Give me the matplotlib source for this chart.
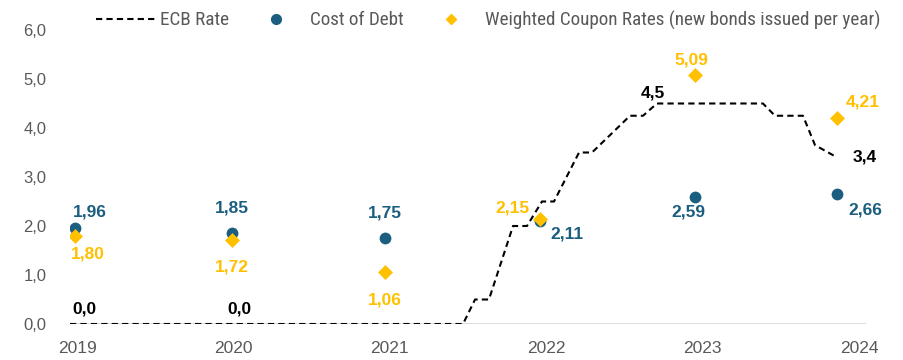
import numpy as np
import matplotlib
matplotlib.use("Agg")
import matplotlib.pyplot as plt
from matplotlib import font_manager
from matplotlib.lines import Line2D

# ---------------- data ----------------
years = [2019, 2020, 2021, 2022, 2023, 2024]            # x tick labels
point_x = [2018.99, 2019.99, 2020.97, 2021.96, 2022.95, 2023.86]  # date positions of yearly values
cost_of_debt = [1.96, 1.85, 1.75, 2.11, 2.59, 2.66]
coupon_rates = [1.80, 1.72, 1.06, 2.15, 5.09, 4.21]

ecb_x = [2018.955, 2021.468, 2021.545, 2021.634, 2021.788, 2021.877, 2021.973,
         2022.050, 2022.210, 2022.293, 2022.536, 2022.619, 2022.708, 2023.386,
         2023.463, 2023.642, 2023.719, 2023.860]
ecb_y = [0.0, 0.0, 0.5, 0.5, 2.0, 2.0, 2.5, 2.5, 3.5, 3.5, 4.25, 4.25, 4.5, 4.5,
         4.25, 4.25, 3.65, 3.4]

y_ticks = [0, 1, 2, 3, 4, 5, 6]
legend_labels = ["ECB Rate", "Cost of Debt", "Weighted Coupon Rates (new bonds issued per year)"]

# ---------------- style ----------------
BLUE = "#1B5E80"
GOLD = "#FFC000"
GRAY = "#595959"


def have(fam):
    try:
        font_manager.findfont(font_manager.FontProperties(family=fam), fallback_to_default=False)
        return True
    except Exception:
        return False


BASE = "Liberation Sans" if have("Liberation Sans") else "DejaVu Sans"
NARROW = BASE
for cand in ["Liberation Sans Narrow", "Roboto Condensed", "DejaVu Sans Condensed", "Open Sans Condensed"]:
    if have(cand):
        NARROW = cand
        break
plt.rcParams["font.family"] = [BASE, "DejaVu Sans"]

fig = plt.figure(figsize=(9.04, 3.60), dpi=100)
ax = fig.add_axes([70 / 904, 36 / 360, 796 / 904, 294 / 360])
ax.set_xlim(2018.955, 2024.045)
ax.set_ylim(0, 6)

# zero gridline
ax.axhline(0, color="#D9D9D9", lw=2, zorder=1)

# ECB line
ax.plot(ecb_x, ecb_y, color="black", lw=1.5, dashes=(3, 2), zorder=2)

# markers
ax.scatter(point_x, cost_of_debt, s=72, color=BLUE, marker="o", zorder=3, linewidths=0)
ax.scatter(point_x, coupon_rates, s=58, color=GOLD, marker="D", zorder=4, linewidths=0)

PX = 0.72  # points per pixel
cod_off = [(14, -16), (0, -25), (0, -25), (27, 13), (-6, 15), (28, 16)]
cpn_off = [(12, 18), (0, 27), (0, 28), (-27, -11), (-3, -15), (26, -16)]
LBL = 12.5
for x, v, o in zip(point_x, cost_of_debt, cod_off):
    ax.annotate(f"{v:.2f}".replace(".", ","), (x, v), xytext=(o[0] * PX, -o[1] * PX),
                textcoords="offset points", ha="center", va="center",
                fontsize=LBL, fontweight="bold", color=BLUE, zorder=5)
for x, v, o in zip(point_x, coupon_rates, cpn_off):
    ax.annotate(f"{v:.2f}".replace(".", ","), (x, v), xytext=(o[0] * PX, -o[1] * PX),
                textcoords="offset points", ha="center", va="center",
                fontsize=LBL, fontweight="bold", color=GOLD, zorder=5)

# ECB labels
ecb_label_x = [point_x[0], point_x[1], ecb_x[12], ecb_x[-1]]
ecb_off = [(9, -15), (8, -15), (-4, -11), (28, 0)]
for x, o in zip(ecb_label_x, ecb_off):
    v = float(np.interp(x, ecb_x, ecb_y))
    ax.annotate(f"{v:.1f}".replace(".", ","), (x, v), xytext=(o[0] * PX, -o[1] * PX),
                textcoords="offset points", ha="center", va="center",
                fontsize=LBL, fontweight="bold", color="black", zorder=5)

# axes styling
for s in ax.spines.values():
    s.set_visible(False)
ax.set_yticks(y_ticks)
ax.set_yticklabels([f"{t:.1f}".replace(".", ",") for t in y_ticks], fontsize=12, color=GRAY)
ax.set_xticks(years)
ax.set_xticklabels([str(y) for y in years], fontsize=12.5, color=GRAY)
ax.tick_params(axis="both", length=0)
ax.tick_params(axis="y", pad=17)
ax.tick_params(axis="x", pad=12)

# legend: size the font so the long label spans ~395 px like the reference
renderer = fig.canvas.get_renderer()
probe = fig.text(0, 0, legend_labels[2], family=NARROW, size=10)
w10 = probe.get_window_extent(renderer).width
probe.remove()
LEG = 10 * 395 / w10
em = LEG * 100 / 72  # px per em
handles = [
    Line2D([0], [0], color="black", lw=1.5, dashes=(3, 2)),
    Line2D([0], [0], color=BLUE, marker="o", ls="none", markersize=7),
    Line2D([0], [0], color=GOLD, marker="D", ls="none", markersize=5.5),
]
leg = fig.legend(handles, legend_labels, loc="center", bbox_to_anchor=(0.540, 0.944),
                 ncol=3, frameon=False, handlelength=60 / em, handletextpad=4 / em,
                 columnspacing=17 / em, prop={"family": NARROW, "size": LEG}, labelcolor=GRAY)

fig.savefig("out.png", dpi=100)
